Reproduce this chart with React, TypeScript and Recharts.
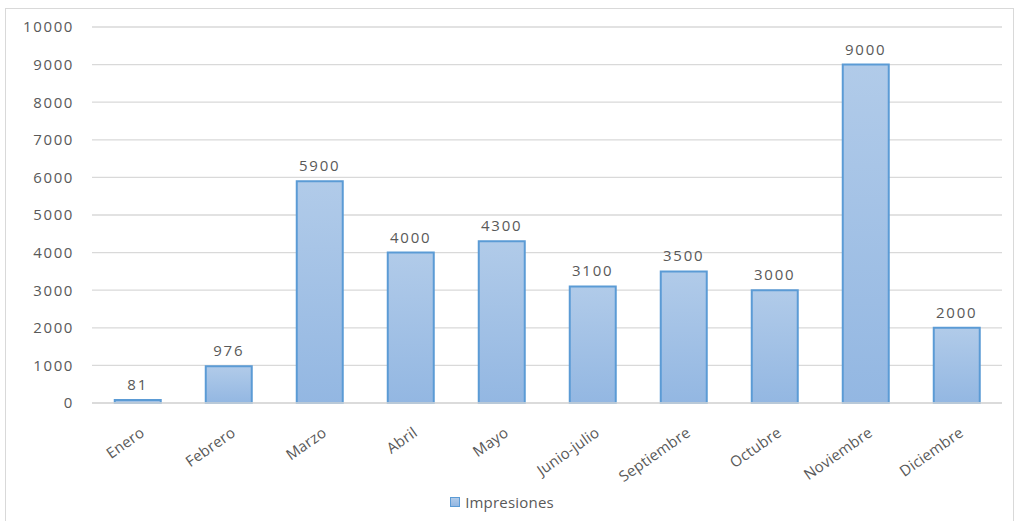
import React from "react";
import { BarChart, Bar, XAxis, YAxis, CartesianGrid, LabelList, Legend } from "recharts";

const months = [
  "Enero",
  "Febrero",
  "Marzo",
  "Abril",
  "Mayo",
  "Junio-julio",
  "Septiembre",
  "Octubre",
  "Noviembre",
  "Diciembre",
];
const impresiones = [81, 976, 5900, 4000, 4300, 3100, 3500, 3000, 9000, 2000];
const yTicks = [0, 1000, 2000, 3000, 4000, 5000, 6000, 7000, 8000, 9000, 10000];

const data = months.map((m, i) => ({ month: m, Impresiones: impresiones[i] }));

const FONT = "'Open Sans', sans-serif";
const GRAY = "#595959";

function MonthTick(props: any) {
  const { x, y, payload } = props;
  return (
    <g transform={`translate(${x + 8},${y + 24})`}>
      <text
        transform="rotate(-35)"
        textAnchor="end"
        fill={GRAY}
        fontSize={15}
        fontFamily={FONT}
        letterSpacing={0.2}
      >
        {payload.value}
      </text>
    </g>
  );
}

function LegendBox() {
  return (
    <div
      style={{
        display: "flex",
        justifyContent: "center",
        alignItems: "center",
        fontFamily: FONT,
        fontSize: 15,
        color: GRAY,
        paddingRight: 4,
      }}
    >
      <span
        style={{
          display: "inline-block",
          width: 8,
          height: 8,
          background: "linear-gradient(#b1cbe9, #93b7e2)",
          border: "1px solid #5b9bd5",
          marginRight: 5,
        }}
      />
      <span style={{ letterSpacing: 0.2 }}>Impresiones</span>
    </div>
  );
}

export default function App() {
  return (
    <div
      style={{
        position: "absolute",
        left: 5,
        top: 8,
        width: 1007,
        height: 530,
        border: "1px solid #d9d9d9",
        background: "#fff",
      }}
    >
      <BarChart
        width={1006}
        height={513}
        data={data}
        margin={{ top: 18, right: 10, bottom: 0, left: 0 }}
        barCategoryGap="25%"
      >
        <defs>
          <linearGradient id="barFill" x1="0" y1="0" x2="0" y2="1">
            <stop offset="0%" stopColor="#b1cbe9" />
            <stop offset="100%" stopColor="#93b7e2" />
          </linearGradient>
        </defs>
        <CartesianGrid vertical={false} stroke="#d9d9d9" strokeWidth={1.3} />
        <XAxis
          dataKey="month"
          interval={0}
          tick={<MonthTick />}
          tickLine={false}
          axisLine={{ stroke: "#d9d9d9", strokeWidth: 1.3 }}
          height={99}
        />
        <YAxis
          domain={[0, 10000]}
          ticks={yTicks}
          width={86}
          axisLine={false}
          tickLine={false}
          tick={{ fill: GRAY, fontSize: 15, fontFamily: FONT, letterSpacing: 1.6 }}
          tickMargin={12}
        />
        <Legend
          verticalAlign="bottom"
          content={<LegendBox />}
          wrapperStyle={{ bottom: 10 }}
        />
        <Bar
          dataKey="Impresiones"
          fill="url(#barFill)"
          stroke="#5b9bd5"
          strokeWidth={2}
          isAnimationActive={false}
        >
          <LabelList
            dataKey="Impresiones"
            position="top"
            offset={10}
            fill={GRAY}
            fontSize={15}
            fontFamily={FONT}
            style={{ letterSpacing: 1.8 }}
          />
        </Bar>
      </BarChart>
    </div>
  );
}
